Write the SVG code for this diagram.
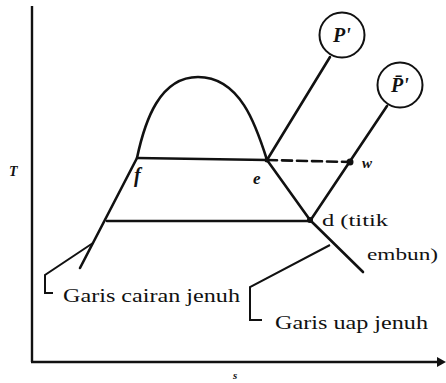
<svg xmlns="http://www.w3.org/2000/svg" width="446" height="383" viewBox="0 0 446 383">
<style>
.ln{fill:none;stroke:#111;stroke-width:2.6;stroke-linecap:round;stroke-linejoin:round}
.ax{fill:none;stroke:#111;stroke-width:2.4}
.th{fill:none;stroke:#111;stroke-width:2}
.t{font-family:"Liberation Serif",serif;fill:#111}
.it{font-family:"Liberation Serif",serif;font-style:italic;font-weight:bold;fill:#111}
</style>
<rect width="446" height="383" fill="#fff"/>
<g id="axes">
<line class="ax" x1="32" y1="6" x2="32" y2="362"/>
<line class="ax" x1="31" y1="362" x2="440" y2="362"/>
<polygon points="437,357 446,362 437,367" fill="#111"/>
<text class="it" x="9" y="176" font-size="14">T</text>
<text class="it" x="233" y="379" font-size="11">s</text>
</g>
<g id="dome">
<path class="ln" d="M80,268 L137,158 C145,120 160,77 198,77 C240,77 256,125 267,160 L310,220 L363,272"/>
</g>
<g id="P1">
<circle class="th" cx="342" cy="35" r="22.5"/>
<text class="it" x="342" y="42" font-size="20" text-anchor="middle">P'</text>
</g>
<g id="P2">
<circle class="th" cx="400" cy="85" r="22.5"/>
<text class="it" x="400" y="92" font-size="20" text-anchor="middle">P̄'</text>
</g>
<g id="connectors">
<line class="ln" x1="137" y1="158" x2="267" y2="160"/>
<line class="ln" x1="267" y1="160" x2="350" y2="162" stroke-dasharray="10,5"/>
<line class="ln" x1="107" y1="221" x2="310" y2="221"/>
<line class="ln" x1="330" y1="57" x2="267" y2="160"/>
<line class="ln" x1="387" y1="106" x2="310" y2="221"/>
<polyline class="th" points="93,243 45,275 45,293 53,293"/>
<polyline class="th" points="330,245 250,287 250,320 262,320"/>
<circle cx="350" cy="162" r="3.5" fill="#111"/>
<circle cx="267" cy="160" r="2.5" fill="#111"/>
<circle cx="310" cy="220" r="3" fill="#111"/>
</g>
<g id="labels">
<text class="it" x="134" y="182" font-size="20">f</text>
<text class="it" x="253" y="184" font-size="17">e</text>
<text class="it" x="362" y="168" font-size="15">w</text>
<text class="t" x="322" y="226" font-size="17" textLength="66" lengthAdjust="spacingAndGlyphs">d (titik</text>
<text class="t" x="367" y="260" font-size="17" textLength="71" lengthAdjust="spacingAndGlyphs">embun)</text>
<text class="t" x="63" y="302" font-size="19" textLength="177" lengthAdjust="spacingAndGlyphs">Garis cairan jenuh</text>
<text class="t" x="275" y="329" font-size="19" textLength="153" lengthAdjust="spacingAndGlyphs">Garis uap jenuh</text>
</g>
</svg>
